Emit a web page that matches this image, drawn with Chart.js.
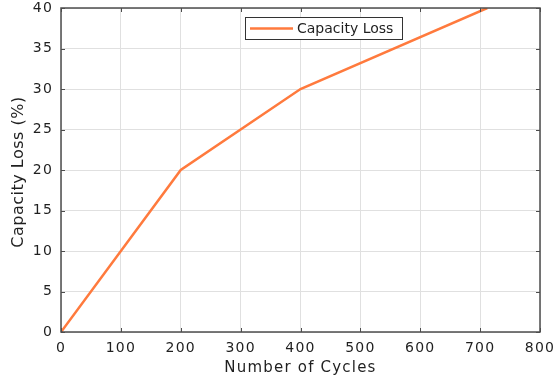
<!DOCTYPE html>
<html>
<head>
<meta charset="utf-8">
<script src="https://cdn.jsdelivr.net/npm/chart.js@4"></script>
<style>
  html, body { margin: 0; padding: 0; background: #fff; }
  #wrap { width: 555px; height: 378px; }
</style>
</head>
<body>
<div id="wrap"><canvas id="lossChart" width="555" height="378"></canvas></div>
<script>
const cycles = [0, 200, 400, 712];
const capacityLoss = [0, 20, 30, 40];
const xTicks = [0, 100, 200, 300, 400, 500, 600, 700, 800];
const yTicks = [0, 5, 10, 15, 20, 25, 30, 35, 40];
const yTitle = 'Capacity Loss (%)';

const axisColor = '#4d4d4d';
const textColor = '#1f1f1f';
const lineColor = '#ff7a3d';
const family = '"DejaVu Sans", Verdana, sans-serif';

// the reference text is wide, so space the letters out a little
const spacing = {
    id: 'spacing',
    beforeDraw(chart) { chart.ctx.letterSpacing = '1.2px'; }
};

// box round the plot, inward tick marks, the y title and the boxed legend
const frameAndLegend = {
    id: 'frameAndLegend',
    afterDraw(chart) {
        const c = chart.ctx;
        const a = chart.chartArea;
        const xs = chart.scales.x, ys = chart.scales.y;
        c.save();
        c.letterSpacing = '0px';
        c.strokeStyle = axisColor;
        c.lineWidth = 1.5;
        c.strokeRect(a.left, a.top, a.right - a.left, a.bottom - a.top);
        c.lineWidth = 1;
        c.beginPath();
        xTicks.forEach(v => {
            const px = Math.round(xs.getPixelForValue(v)) + 0.5;
            c.moveTo(px, a.bottom); c.lineTo(px, a.bottom - 4);
            c.moveTo(px, a.top); c.lineTo(px, a.top + 4);
        });
        yTicks.forEach(v => {
            const py = Math.round(ys.getPixelForValue(v)) + 0.5;
            c.moveTo(a.left, py); c.lineTo(a.left + 4, py);
            c.moveTo(a.right, py); c.lineTo(a.right - 4, py);
        });
        c.stroke();

        // y title
        c.save();
        c.translate(19, 172);
        c.rotate(-Math.PI / 2);
        c.fillStyle = textColor;
        c.font = '16px ' + family;
        c.letterSpacing = '0.5px';
        c.textAlign = 'center';
        c.textBaseline = 'middle';
        c.fillText(yTitle, 0, 0);
        c.restore();

        // legend
        const bx = 245, by = 17, bw = 157, bh = 22;
        c.fillStyle = '#fff';
        c.fillRect(bx, by, bw, bh);
        c.strokeStyle = '#333';
        c.lineWidth = 1;
        c.strokeRect(bx + 0.5, by + 0.5, bw, bh);
        c.strokeStyle = lineColor;
        c.lineWidth = 2.5;
        c.beginPath();
        c.moveTo(bx + 5, by + 11.5);
        c.lineTo(bx + 48, by + 11.5);
        c.stroke();
        c.fillStyle = textColor;
        c.font = '14px ' + family;
        c.textBaseline = 'middle';
        c.fillText(chart.data.datasets[0].label, bx + 52, by + 12);
        c.restore();
    }
};

new Chart(document.getElementById('lossChart'), {
    type: 'line',
    data: {
        datasets: [{
            label: 'Capacity Loss',
            data: cycles.map((x, i) => ({ x: x, y: capacityLoss[i] })),
            borderColor: lineColor,
            borderWidth: 2.5,
            pointRadius: 0,
            tension: 0,
            fill: false
        }]
    },
    options: {
        responsive: false,
        animation: false,
        layout: { padding: { top: 8, right: 15, left: 0, bottom: 0 } },
        scales: {
            x: {
                type: 'linear',
                min: 0,
                max: 800,
                afterBuildTicks: s => { s.ticks = xTicks.map(v => ({ value: v })); },
                afterFit: s => { s.height = 46; s.paddingLeft = 0; s.paddingRight = 0; },
                ticks: {
                    color: textColor,
                    font: { family: family, size: 14 },
                    padding: 8,
                    maxRotation: 0
                },
                grid: { color: '#e0e0e0', drawTicks: false },
                border: { display: false },
                title: {
                    display: true,
                    text: 'Number of Cycles',
                    color: textColor,
                    font: { family: family, size: 15 },
                    padding: { top: 0, bottom: 1 }
                }
            },
            y: {
                min: 0,
                max: 40,
                afterBuildTicks: s => { s.ticks = yTicks.map(v => ({ value: v })); },
                afterFit: s => { s.width = 61; s.paddingTop = 0; s.paddingBottom = 0; },
                ticks: {
                    color: textColor,
                    font: { family: family, size: 14 },
                    padding: 8
                },
                grid: { color: '#e0e0e0', drawTicks: false },
                border: { display: false }
            }
        },
        plugins: {
            legend: { display: false },
            tooltip: { enabled: false }
        }
    },
    plugins: [spacing, frameAndLegend]
});
</script>
</body>
</html>
